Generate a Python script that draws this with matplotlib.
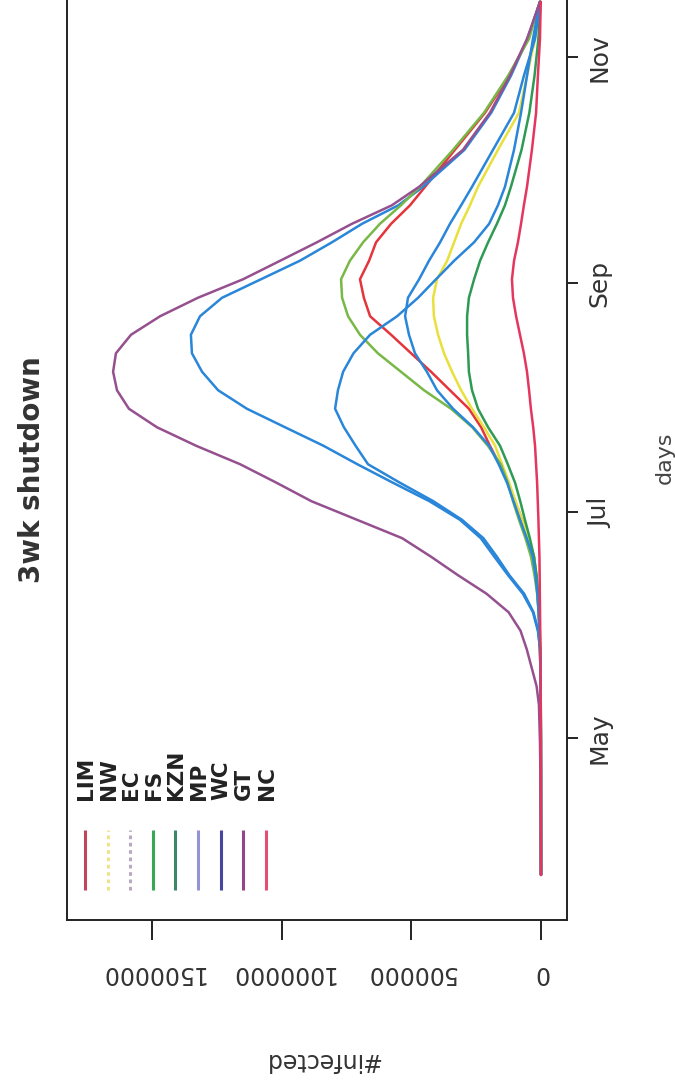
import numpy as np
import matplotlib
matplotlib.use("Agg")
import matplotlib.pyplot as plt

# ---------------- data ----------------
# day of year 2020 (Jan 1 = 0)
days = [84, 100, 110, 120, 130, 135, 140, 145, 150, 155, 160, 165, 170, 175, 180, 185, 190,
        195, 200, 205, 210, 215, 220, 225, 230, 235, 240, 245, 250, 255, 260, 265, 270,
        280, 290, 300, 310, 320]

provinces = ["LIM", "NW", "EC", "FS", "KZN", "MP", "WC", "GT", "NC"]

LIM = [0, 100, 250, 500, 1000, 1600, 2500, 4000, 6000, 9000, 13000, 19000, 27000, 48000,
       73000, 100000, 127000, 160000, 197000, 231000, 278000, 351000, 424000, 501000,
       578000, 659000, 683000, 698000, 663000, 636000, 578000, 505000, 447000, 332000,
       216000, 123000, 50000, 4000]
NW = [0, 80, 200, 400, 800, 1300, 2000, 3200, 5000, 8000, 12000, 18000, 27000, 48000,
      73000, 98000, 123000, 150000, 177000, 220000, 266000, 308000, 343000, 374000,
      397000, 413000, 416000, 401000, 362000, 335000, 308000, 274000, 243000, 166000,
      85000, 54000, 23000, 2000]
EC = [0, 100, 250, 500, 1000, 1500, 2000, 3500, 12000, 31000, 70000, 127000, 180000,
      232000, 313000, 430000, 571000, 708000, 839000, 987000, 1134000, 1245000, 1307000,
      1346000, 1350000, 1315000, 1230000, 1080000, 930000, 806000, 690000, 550000,
      455000, 295000, 192000, 116000, 52000, 4000]
FS = [0, 100, 300, 700, 1200, 1800, 2500, 3500, 5000, 9000, 15000, 25000, 38600, 60000,
      85000, 108000, 128000, 155000, 205000, 265000, 347000, 451000, 540000, 629000,
      698000, 744000, 767000, 771000, 737000, 686000, 621000, 540000, 467000, 339000,
      220000, 127000, 46000, 4000]
KZN = [0, 80, 200, 400, 800, 1300, 2000, 3000, 4500, 7000, 11000, 17000, 27000, 43000,
       62000, 80000, 100000, 128000, 158000, 204000, 243000, 266000, 278000, 281000,
       285000, 285000, 278000, 258000, 235000, 204000, 170000, 139000, 116000, 75000,
       45000, 25000, 10000, 2000]
MP = [0, 100, 250, 500, 1000, 1600, 2500, 4000, 6000, 9500, 14000, 21000, 31000, 55000,
      81000, 106000, 131000, 163000, 200000, 262000, 339000, 401000, 440000, 486000,
      509000, 524000, 513000, 470000, 432000, 389000, 351000, 308000, 266000, 185000,
      104000, 66000, 23000, 3000]
WC = [0, 100, 250, 500, 1000, 1500, 2000, 3500, 11000, 29000, 65000, 122000, 170000,
      222000, 305000, 415000, 544000, 667000, 715000, 760000, 794000, 783000, 763000,
      723000, 659000, 555000, 474000, 405000, 335000, 258000, 200000, 166000, 139000,
      104000, 77000, 54000, 31000, 4000]
GT = [0, 1000, 2000, 4000, 8000, 17000, 36000, 55000, 79000, 125000, 210000, 320000,
      424000, 535000, 710000, 885000, 1020000, 1160000, 1330000, 1481000, 1589000,
      1635000, 1650000, 1639000, 1581000, 1469000, 1323000, 1149000, 1006000, 864000,
      729000, 575000, 470000, 301000, 197000, 120000, 54000, 4000]
NC = [0, 100, 300, 600, 1200, 1600, 2000, 2500, 3000, 3700, 4500, 5200, 6000, 8000, 10000,
      12500, 15000, 19000, 23000, 30000, 39000, 46000, 54000, 66000, 81000, 96000,
      108000, 112000, 104000, 89000, 77000, 66000, 54000, 35000, 19000, 12000, 4000, 1000]

series = {"LIM": LIM, "NW": NW, "EC": EC, "FS": FS, "KZN": KZN,
          "MP": MP, "WC": WC, "GT": GT, "NC": NC}

month_ticks = [121, 182, 244, 305]
month_labels = ["May", "Jul", "Sep", "Nov"]
infected_ticks = [0, 500000, 1000000, 1500000]
infected_labels = ["0", "500000", "1000000", "1500000"]

title = "3wk shutdown"
xlabel = "#infected"
ylabel = "days"

# ---------------- styles ----------------
line_colors = {"LIM": "#e5353c", "NW": "#e9e03c", "EC": "#2a86d8", "FS": "#78b846",
               "KZN": "#2f9a54", "MP": "#2a86d8", "WC": "#2a86d8", "GT": "#95508f",
               "NC": "#e5365f"}
legend_colors = {"LIM": "#c0465c", "NW": "#efe38a", "EC": "#b9a9c0", "FS": "#38a853",
                 "KZN": "#3b8768", "MP": "#9393d6", "WC": "#4845a0", "GT": "#97448f",
                 "NC": "#e64e76"}
legend_ls = {"NW": (0, (1.2, 1.2)), "EC": (0, (1.2, 1.2))}

W, H = 675, 1087
fig = plt.figure(figsize=(W / 100, H / 100), dpi=100)
ax_l, ax_r, ax_b, ax_t = 67, 567, 920, -20
ax = fig.add_axes([ax_l / W, (H - ax_b) / H, (ax_r - ax_l) / W, (ax_b - ax_t) / H])

for name in provinces:
    ax.plot(series[name], days, color=line_colors[name], lw=1.8,
            solid_capstyle="round", solid_joinstyle="round")

ax.set_xlim(1827744, -100256)
ax.set_ylim(71.8, 325.9)

for sp in ax.spines.values():
    sp.set_linewidth(1.4)
    sp.set_color("#222222")

narrow = ["Liberation Sans Narrow", "DejaVu Sans"]

# bottom axis (#infected), upside-down labels
ax.set_xticks(infected_ticks)
ax.set_xticklabels(infected_labels, rotation=180, fontsize=17, family=narrow, color="#333333")
ax.tick_params(axis="x", length=14.4, width=1.4, pad=15, color="#222222")
ax.set_xlabel(xlabel, rotation=180, fontsize=17, family=narrow, color="#333333")
ax.xaxis.set_label_coords((322 - ax_l) / (ax_r - ax_l), (ax_b - 1060) / (ax_b - ax_t))
ax.xaxis.label.set_va("center")

# right axis (days)
ax.yaxis.tick_right()
ax.set_yticks(month_ticks)
ax.set_yticklabels(month_labels, rotation=90, fontsize=18, color="#333333")
for lab in ax.get_yticklabels():
    lab.set_va("center")
ax.tick_params(axis="y", length=8, width=1.4, pad=7, color="#222222")
ax.yaxis.set_label_position("right")
ax.set_ylabel(ylabel, rotation=90, fontsize=16, color="#444444")
ax.yaxis.set_label_coords((665 - ax_l) / (ax_r - ax_l), (ax_b - 458) / (ax_b - ax_t))
ax.yaxis.label.set_ha("center")
ax.yaxis.label.set_va("center")

# title on the left side (rotated page)
ax.text((32 - ax_l) / (ax_r - ax_l), (ax_b - 470) / (ax_b - ax_t), title,
        rotation=90, fontsize=20, fontweight="bold", color="#333333",
        ha="center", va="center", transform=ax.transAxes)

# legend (rotated)
for i, name in enumerate(provinces):
    px = 85 + i * 22.6
    xf = (px - ax_l) / (ax_r - ax_l)
    ax.plot([xf, xf], [(ax_b - 890) / (ax_b - ax_t), (ax_b - 830) / (ax_b - ax_t)],
            transform=ax.transAxes, color=legend_colors[name], lw=2.2,
            ls=legend_ls.get(name, "-"), solid_capstyle="butt")
    ax.text(xf + 0.002, (ax_b - 800) / (ax_b - ax_t), name, rotation=90, fontsize=15.5,
            fontweight="bold", color="#222222", ha="center", va="bottom",
            transform=ax.transAxes)

fig.savefig("out.png", dpi=100)
